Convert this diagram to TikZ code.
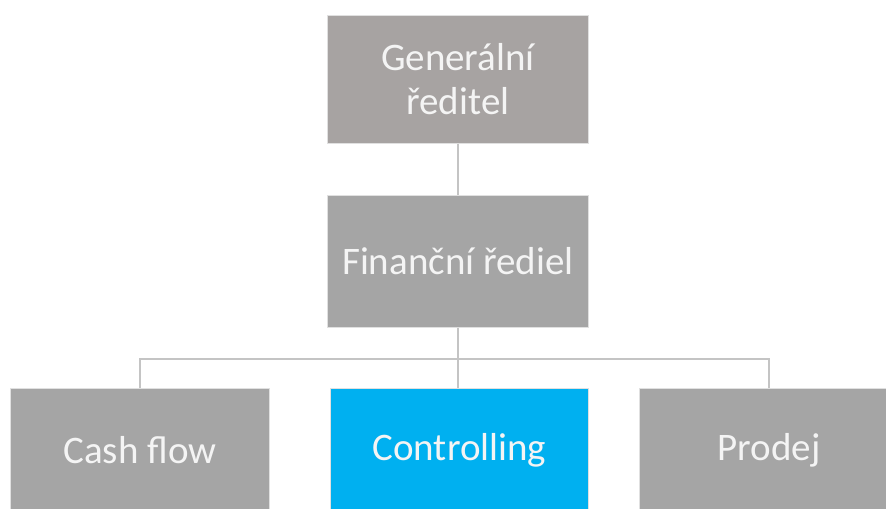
\documentclass[tikz,border=0pt]{standalone}
\usepackage{fontspec}
\setmainfont{Carlito}
\definecolor{topgray}{HTML}{A7A3A2}
\definecolor{boxgray}{HTML}{A5A5A5}
\definecolor{ctrlblue}{HTML}{00B0F0}
\definecolor{linegray}{HTML}{C4C4C4}
\definecolor{txtwhite}{HTML}{F4F4F4}
\begin{document}
\begin{tikzpicture}[x=1bp,y=-1bp,
  orgbox/.style={rectangle, draw=white!88!black, line width=0.8bp, fill=boxgray,
    text=txtwhite, font=\fontsize{39bp}{44bp}\selectfont, align=center,
    inner sep=0pt, anchor=north west},
  conn/.style={draw=linegray, line width=2bp}]
\useasboundingbox (0,0) rectangle (886,509);
\clip (0,0) rectangle (886,509);
\fill[white] (0,0) rectangle (886,509);
\node[orgbox, fill=topgray, minimum width=261bp, minimum height=128bp] (gen) at (327,15) {Generální\\ředitel};
\node[orgbox, minimum width=261bp, minimum height=132bp] (fin) at (327,195) {Finanční řediel};
\node[orgbox, minimum width=259bp, minimum height=124bp] (cash) at (10,388) {Cash flow};
\node[orgbox, fill=ctrlblue, minimum width=258bp, minimum height=124bp] (ctrl) at (330,388) {Controlling};
\node[orgbox, minimum width=259bp, minimum height=124bp] (prod) at (639,388) {Prodej};
\coordinate (bar) at (458,359);
\draw[conn] (gen.south) -- (fin.north);
\draw[conn] (fin.south) -- (ctrl.north -| fin.south);
\draw[conn] (cash.north) |- (bar) -| (prod.north);
\end{tikzpicture}
\end{document}
